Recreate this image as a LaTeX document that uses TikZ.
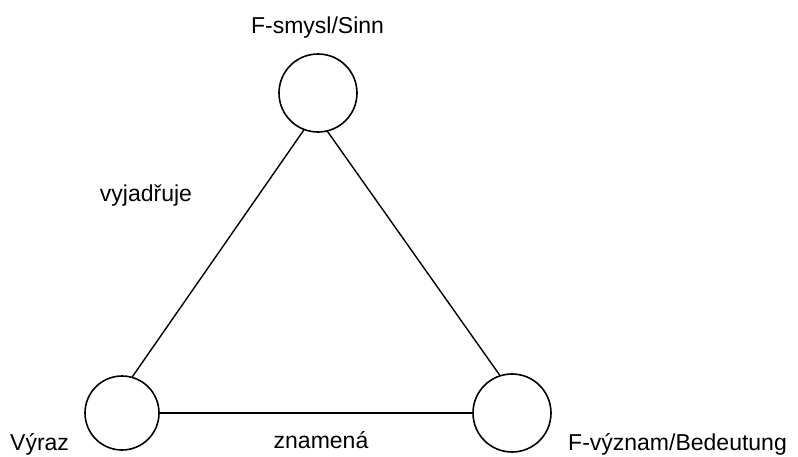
\documentclass[tikz,border=0pt]{standalone}
\usepackage{fontspec}
\setmainfont{Liberation Sans}

\begin{document}
\begin{tikzpicture}[x=1pt,y=-1pt,line cap=round,line join=round,every node/.style={inner sep=0pt,font=\fontsize{23}{27}\selectfont},
  vrchol/.style={draw,circle,line width=1.6pt,minimum size=#1}]
  \useasboundingbox (0,0) rectangle (798,456);
  \node[vrchol=78pt] (smysl) at (318,93) {};
  \node[vrchol=74pt] (vyraz) at (122,413) {};
  \node[vrchol=78pt] (vyznam) at (512,413) {};
  \draw[line width=1.4pt] (vyraz.74) -- (smysl.249);
  \draw[line width=1.4pt] (smysl.284) -- (vyznam.108);
  \draw[line width=1.4pt] (vyraz.east) -- (vyznam.west);
  \node[anchor=base] (tsmysl) at (317.5,33) {F-smysl/Sinn};
  \node[anchor=base] (tvyjadruje) at (146,201) {vyjadřuje};
  \node[anchor=base west] (tvyraz) at (10,450) {Výraz};
  \node[anchor=base] (tznamena) at (321,448) {znamená};
  \node[anchor=base west] (tvyznam) at (568,450) {F-význam/Bedeutung};
\end{tikzpicture}
\end{document}
